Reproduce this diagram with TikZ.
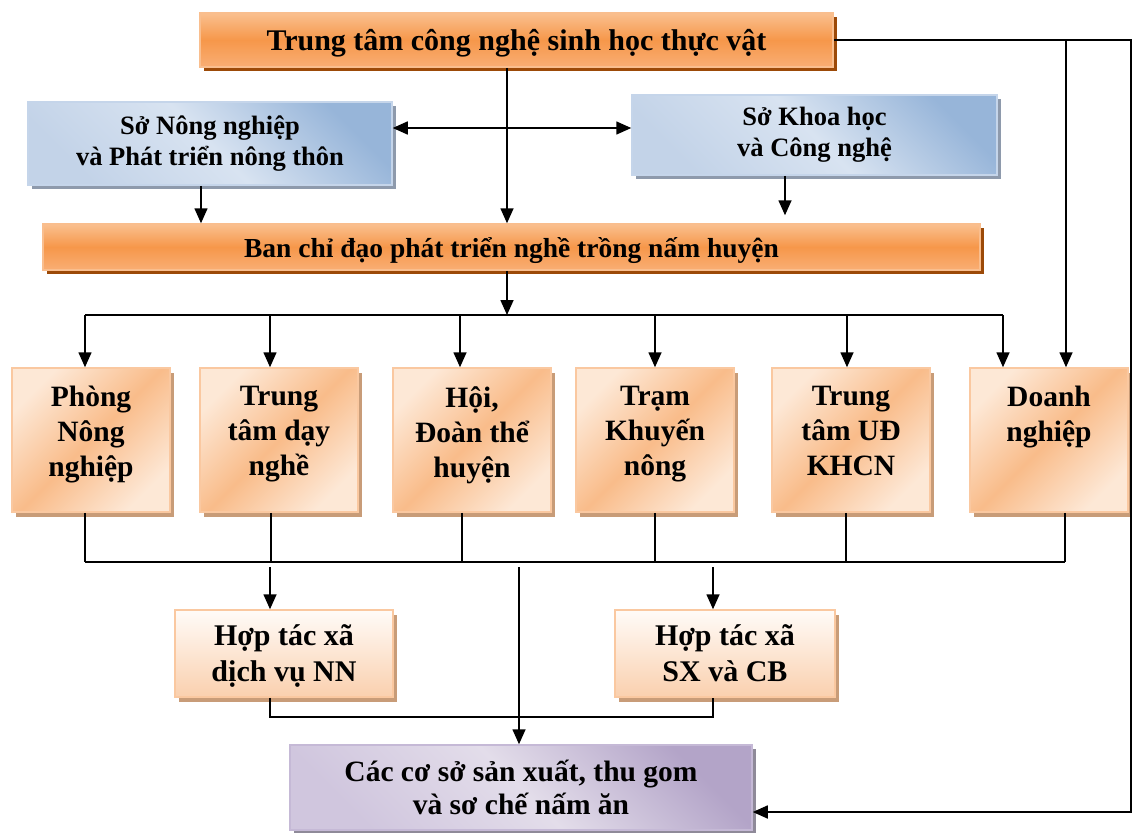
\documentclass[tikz,border=0pt]{standalone}
\usepackage{fontspec}
\setmainfont{Liberation Serif}
\usetikzlibrary{arrows.meta,shadows}
\definecolor{hdrTop}{HTML}{FAC08F}
\definecolor{hdrMid}{HTML}{F6974A}
\definecolor{hdrBot}{HTML}{F9AE74}
\definecolor{hdrBorder}{HTML}{F9BE8E}
\definecolor{hdrShadow}{HTML}{9C4A08}
\definecolor{blueTop}{HTML}{97B5D9}
\definecolor{blueMid}{HTML}{D8E3F1}
\definecolor{blueBot}{HTML}{C3D3E8}
\definecolor{blueBorder}{HTML}{C5D5EA}
\definecolor{blueShadow}{HTML}{8E9AAC}
\definecolor{rowL}{HTML}{FDE8D6}
\definecolor{rowD}{HTML}{F9BC8A}
\definecolor{rowBorder}{HTML}{FAC8A0}
\definecolor{rowShadow}{HTML}{C89C78}
\definecolor{htxTop}{HTML}{FFFBF8}
\definecolor{htxBot}{HTML}{FAD0AE}
\definecolor{purTop}{HTML}{B3A4C8}
\definecolor{purMid}{HTML}{E3DDEA}
\definecolor{purBot}{HTML}{D0C6DE}
\definecolor{purBorder}{HTML}{C5B9D6}
\definecolor{purShadow}{HTML}{8F8A99}
\tikzset{
  ln/.style={line width=1.6pt, draw=black},
  arr/.style={ln, -{Triangle[width=13pt,length=15pt]}},
  darr/.style={ln, {Triangle[width=13pt,length=15pt]}-{Triangle[width=13pt,length=15pt]}},
  hdrbox/.style={draw=hdrBorder, line width=1.5pt, inner sep=0pt, text depth=0pt,
    top color=hdrTop, bottom color=hdrBot, middle color=hdrMid,
    general shadow={fill=hdrShadow, shadow xshift=4pt, shadow yshift=-4pt},
    font=\bfseries},
  bluebox/.style={draw=blueBorder, line width=1.5pt, inner sep=0pt,
    top color=blueTop, bottom color=blueBot, middle color=blueMid, shading angle=-45,
    general shadow={fill=blueShadow, shadow xshift=4pt, shadow yshift=-4pt},
    align=center, font=\bfseries\fontsize{26.5}{31}\selectfont},
  rowbox/.style={draw=rowBorder, line width=1.5pt, inner sep=0pt,
    minimum width=158pt, minimum height=144pt,
    top color=rowL, bottom color=rowL, middle color=rowD, shading angle=45,
    general shadow={fill=rowShadow, shadow xshift=4pt, shadow yshift=-5pt}},
  rowtxt/.style={anchor=north, inner sep=0pt, align=center,
    font=\bfseries\fontsize{29.5}{35}\selectfont},
  htxbox/.style={draw=rowBorder, line width=1.5pt, inner sep=0pt, text depth=0pt,
    minimum height=87pt, top color=htxTop, bottom color=htxBot,
    general shadow={fill=rowShadow, shadow xshift=4pt, shadow yshift=-5pt},
    align=center, font=\bfseries\fontsize{30}{36}\selectfont},
  purbox/.style={draw=purBorder, line width=1.5pt, inner sep=0pt,
    top color=purTop, bottom color=purBot, middle color=purMid, shading angle=-45,
    general shadow={fill=purShadow, shadow xshift=4pt, shadow yshift=-4pt},
    align=center, font=\bfseries\fontsize{29.5}{33}\selectfont}
}
\begin{document}
\begin{tikzpicture}[x=1pt,y=-1pt]
\useasboundingbox (0,0) rectangle (1133,833);
% boxes
\node[hdrbox, minimum width=633pt, minimum height=54pt, font=\bfseries\fontsize{30}{36}\selectfont] (tc) at (516.5,40) {Trung tâm công nghệ sinh học thực vật};
\node[bluebox, minimum width=364pt, minimum height=83pt] (snn) at (210,143.5) {Sở Nông nghiệp\\và Phát triển nông thôn};
\node[bluebox, minimum width=365pt, minimum height=80pt] (skh) at (814.5,135) {Sở Khoa học\\và Công nghệ};
\node[hdrbox, minimum width=937pt, minimum height=46pt, font=\bfseries\fontsize{27.5}{33}\selectfont] (ban) at (511.5,247) {Ban chỉ đạo phát triển nghề trồng nấm huyện};

\node[rowbox] (r1) at (91,440) {};
\node[rowbox] (r2) at (279,440) {};
\node[rowbox] (r3) at (472,440) {};
\node[rowbox] (r4) at (655,440) {};
\node[rowbox] (r5) at (851,440) {};
\node[rowbox] (r6) at (1049,440) {};
\node[rowtxt] (r1t) at (91,386) {Phòng\\Nông\\nghiệp};
\node[rowtxt] (r2t) at (279,386) {Trung\\tâm dạy\\nghề};
\node[rowtxt] (r3t) at (472,386) {Hội,\\Đoàn thể\\huyện};
\node[rowtxt] (r4t) at (655,386) {Trạm\\Khuyến\\nông};
\node[rowtxt] (r5t) at (851,386) {Trung\\tâm UĐ\\KHCN};
\node[rowtxt] (r6t) at (1049,386) {Doanh\\nghiệp};

\node[htxbox, minimum width=218pt] (h1) at (284,653.5) {Hợp tác xã\\dịch vụ NN};
\node[htxbox, minimum width=220pt] (h2) at (725,653.5) {Hợp tác xã\\SX và CB};
\node[purbox, minimum width=462pt, minimum height=85pt] (cs) at (521,787.5) {Các cơ sở sản xuất, thu gom\\và sơ chế nấm ăn};

% connectors
\coordinate (rt) at (1131,40);
\coordinate (rb) at (1131,812);
\draw[arr] (tc.east |- rt) -- (rt) -- (rb) -- (rb -| cs.east);
\coordinate (j) at (1066,40);
\draw[arr] (j) -- (j |- r6.north);
\coordinate (m) at (507,40);
\draw[arr] (m |- tc.south) -- (m |- ban.north);
\coordinate (lvl) at (512,128);
\draw[darr] (lvl -| snn.east) -- (lvl -| skh.west);
\coordinate (s1) at (201,0);
\draw[arr] (s1 |- snn.south) -- (s1 |- ban.north);
\coordinate (s2) at (785,0);
\draw[arr, shorten >=8pt] (s2 |- skh.south) -- (s2 |- ban.north);
\coordinate (busTop) at (507,315);
\draw[arr] (m |- ban.south) -- (busTop);
\foreach \x/\n in {85/r1,270/r2,460/r3,655/r4,847/r5,1003/r6}{
  \coordinate (t\n) at (\x,315);
  \draw[arr] (t\n) -- (t\n |- \n.north);
}
\draw[ln] (tr1) -- (tr6);
\foreach \x/\n in {85/r1,271/r2,462/r3,655/r4,846/r5,1065/r6}{
  \coordinate (u\n) at (\x,562);
  \draw[ln] (u\n |- \n.south) -- (u\n);
}
\draw[ln] (ur1) -- (ur6);
\coordinate (d1) at (270,567);
\coordinate (d2) at (713,567);
\coordinate (dc) at (519,567);
\draw[arr] (d1) -- (d1 |- h1.north);
\draw[arr] (d2) -- (d2 |- h2.north);
\draw[arr] (dc) -- (dc |- cs.north);
\coordinate (e1) at (270,717);
\coordinate (e2) at (713,717);
\draw[ln] (e1 |- h1.south) -- (e1) -- (e2) -- (e2 |- h2.south);
\end{tikzpicture}
\end{document}
